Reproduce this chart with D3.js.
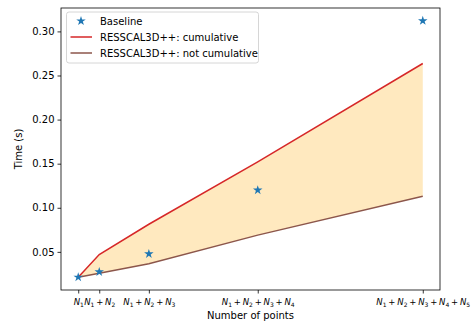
<!DOCTYPE html>
<html>
<head>
<meta charset="utf-8">
<script src="https://cdn.jsdelivr.net/npm/d3@7"></script>
<style>
  body { margin: 0; background: #fff; }
  svg { font-family: "DejaVu Sans", sans-serif; }
</style>
</head>
<body>
<div id="chart"></div>
<script>
// x positions of the cumulative point counts (N1, N1+N2, ...)
const pointCounts = [10000, 16100, 30500, 62100, 110000];
const tickTerms = [1, 2, 3, 4, 5]; // number of N_i summed in each tick label
const baseline = [0.0213, 0.0273, 0.0477, 0.120, 0.312];
const cumulative = [0.0213, 0.047, 0.0813, 0.152, 0.2636];
const notCumulative = [0.0213, 0.0258, 0.0366, 0.069, 0.113];
const yTicks = [0.05, 0.10, 0.15, 0.20, 0.25, 0.30];

const W = 471, H = 321;
const margin = { top: 8, right: 31, bottom: 31, left: 61 };
const width = W - margin.left - margin.right;
const height = H - margin.top - margin.bottom;

const svg = d3.select('#chart').append('svg')
  .attr('width', W).attr('height', H);
const g = svg.append('g')
  .attr('transform', `translate(${margin.left},${margin.top})`);

const xMin = d3.min(pointCounts), xMax = d3.max(pointCounts);
const xPad = (xMax - xMin) * 0.05;
const x = d3.scaleLinear().domain([xMin - xPad, xMax + xPad]).range([0, width]);

const allY = baseline.concat(cumulative, notCumulative);
const yMin = d3.min(allY), yMax = d3.max(allY);
const yPad = (yMax - yMin) * 0.05;
const y = d3.scaleLinear().domain([yMin - yPad, yMax + yPad]).range([height, 0]);

const rows = pointCounts.map((p, i) => ({ p, b: baseline[i], c: cumulative[i], n: notCumulative[i] }));

// shaded band between the two RESSCAL3D++ curves
g.append('path')
  .datum(rows)
  .attr('fill', '#ffe9bf')
  .attr('d', d3.area().x(d => x(d.p)).y0(d => y(d.n)).y1(d => y(d.c)));

const line = key => d3.line().x(d => x(d.p)).y(d => y(d[key]));
g.append('path').datum(rows).attr('fill', 'none')
  .attr('stroke', '#d62728').attr('stroke-width', 1.5).attr('d', line('c'));
g.append('path').datum(rows).attr('fill', 'none')
  .attr('stroke', '#8c564b').attr('stroke-width', 1.5).attr('d', line('n'));

const star = d3.symbol().type(d3.symbolStar).size(28);
g.selectAll('.star').data(rows).enter().append('path')
  .attr('class', 'star')
  .attr('transform', d => `translate(${x(d.p)},${y(d.b)})`)
  .attr('fill', '#1f77b4')
  .attr('d', star);

// axes
const yAxis = g.append('g')
  .call(d3.axisLeft(y).tickValues(yTicks).tickFormat(d3.format('.2f')).tickSize(3.5).tickPadding(3));
const xAxis = g.append('g')
  .attr('transform', `translate(0,${height})`)
  .call(d3.axisBottom(x).tickValues(pointCounts).tickFormat('').tickSize(3.5).tickPadding(3));

[yAxis, xAxis].forEach(a => {
  a.select('.domain').remove();
  a.selectAll('line').attr('stroke', '#000').attr('stroke-width', 0.8);
});
yAxis.selectAll('text').attr('font-size', 10).attr('fill', '#000')
  .attr('font-family', '"DejaVu Sans", sans-serif');
xAxis.selectAll('.tick text').remove();

// math-style tick labels N1 + N2 + ...
xAxis.selectAll('.tick').each(function (d, i) {
  const t = d3.select(this).append('text')
    .attr('y', 15).attr('text-anchor', 'middle')
    .attr('font-size', 8.5).attr('fill', '#000')
    .attr('font-family', '"DejaVu Sans", sans-serif');
  for (let k = 1; k <= tickTerms[i]; k++) {
    if (k > 1) t.append('tspan').attr('dx', 1.8).attr('dy', -2).text('+');
    t.append('tspan').attr('font-style', 'italic')
      .attr('dx', k > 1 ? 1.8 : 0).attr('dy', k > 1 ? 0 : null).text('N');
    t.append('tspan').attr('font-size', 6).attr('dy', 2).text(k);
  }
});

// frame
g.append('rect').attr('width', width).attr('height', height)
  .attr('fill', 'none').attr('stroke', '#000').attr('stroke-width', 0.8);

// axis titles
svg.append('text')
  .attr('x', margin.left + width / 2).attr('y', H - 2)
  .attr('text-anchor', 'middle').attr('font-size', 10)
  .text('Number of points');
svg.append('text')
  .attr('transform', `translate(22,${margin.top + height / 2}) rotate(-90)`)
  .attr('text-anchor', 'middle').attr('font-size', 10)
  .text('Time (s)');

// legend
const legendItems = [
  { label: 'Baseline', type: 'star', color: '#1f77b4' },
  { label: 'RESSCAL3D++: cumulative', type: 'line', color: '#d62728' },
  { label: 'RESSCAL3D++: not cumulative', type: 'line', color: '#8c564b' }
];
const legend = svg.append('g').attr('transform', 'translate(66.5,12)');
legend.append('rect')
  .attr('width', 192).attr('height', 51).attr('rx', 2.5)
  .attr('fill', '#fff').attr('fill-opacity', 0.8)
  .attr('stroke', '#cccccc').attr('stroke-width', 0.8);
legendItems.forEach((it, i) => {
  const row = legend.append('g').attr('transform', `translate(0,${9 + i * 16})`);
  if (it.type === 'star') {
    row.append('path').attr('transform', 'translate(14.5,0)')
      .attr('fill', it.color).attr('d', star);
  } else {
    row.append('line').attr('x1', 4).attr('x2', 25.5)
      .attr('stroke', it.color).attr('stroke-width', 1.5);
  }
  row.append('text').attr('x', 33.5).attr('y', 3.7)
    .attr('font-size', 10).text(it.label);
});
</script>
</body>
</html>
